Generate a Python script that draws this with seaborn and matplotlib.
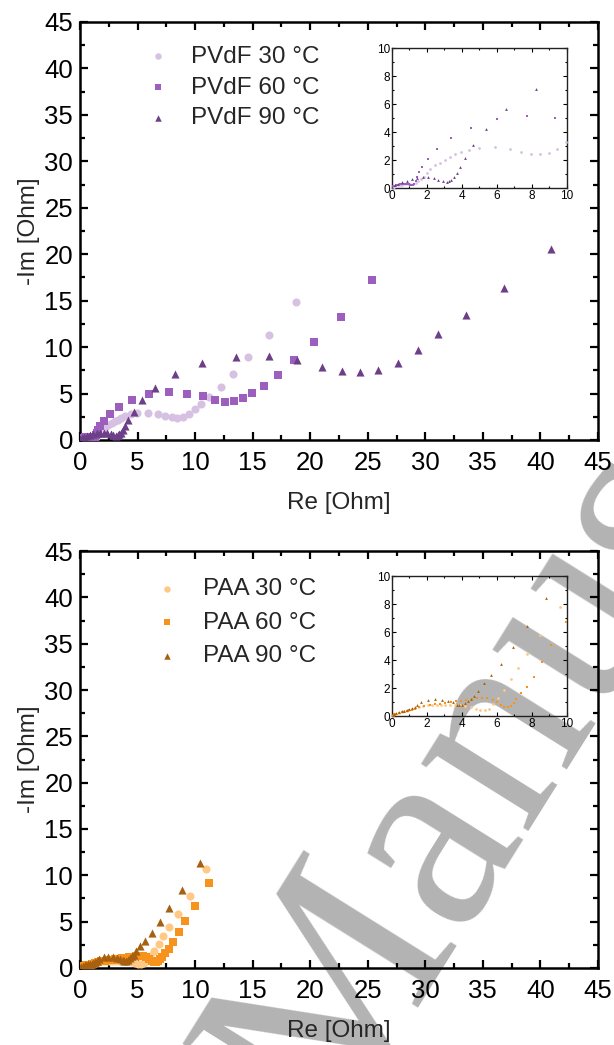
import pandas as pd
import matplotlib.pyplot as plt
import seaborn as sns
from matplotlib.ticker import MultipleLocator

# ---- data (Re, -Im) ----
pvdf_labels = ["PVdF 30 °C", "PVdF 60 °C", "PVdF 90 °C"]
paa_labels = ["PAA 30 °C", "PAA 60 °C", "PAA 90 °C"]

pvdf30_re = [0.03, 0.10, 0.20, 0.32, 0.45, 0.60, 0.75, 0.90, 1.05, 1.20, 1.35, 1.50, 1.65, 1.82,
             2.00, 2.20, 2.45, 2.74, 3.05, 3.30, 3.60, 3.95, 4.40, 4.95, 5.90, 6.75, 7.40, 7.95,
             8.45, 8.95, 9.45, 9.95, 10.52, 11.23, 12.23, 13.30, 14.61, 16.44, 18.73]
pvdf30_im = [0.04, 0.10, 0.15, 0.19, 0.22, 0.24, 0.26, 0.27, 0.28, 0.30, 0.36, 0.48, 0.62, 0.80,
             1.05, 1.38, 1.62, 1.82, 2.02, 2.20, 2.40, 2.58, 2.75, 2.85, 2.90, 2.78, 2.55, 2.45,
             2.40, 2.50, 2.78, 3.28, 3.91, 4.66, 5.66, 7.10, 8.89, 11.29, 14.80]

pvdf60_re = [0.02, 0.08, 0.15, 0.25, 0.35, 0.45, 0.55, 0.65, 0.75, 0.85, 0.95, 1.05, 1.15, 1.22,
             1.28, 1.35, 1.45, 1.57, 1.71, 2.08, 2.60, 3.40, 4.52, 6.02, 7.72, 9.32, 10.71, 11.71,
             12.63, 13.40, 14.12, 14.92, 15.95, 17.20, 18.60, 20.35, 22.70, 25.38]
pvdf60_im = [0.04, 0.12, 0.18, 0.22, 0.25, 0.27, 0.28, 0.29, 0.29, 0.28, 0.26, 0.24, 0.22, 0.22,
             0.30, 0.50, 0.80, 1.12, 1.51, 2.08, 2.79, 3.58, 4.32, 4.90, 5.12, 5.00, 4.73, 4.34,
             4.12, 4.23, 4.55, 5.05, 5.77, 6.99, 8.57, 10.54, 13.20, 17.24]

pvdf90_re = [0.02, 0.15, 0.34, 0.59, 0.86, 1.14, 1.45, 1.77, 2.06, 2.38, 2.65, 2.91, 3.14, 3.28,
             3.39, 3.52, 3.71, 3.90, 4.20, 4.65, 5.35, 6.50, 8.24, 10.62, 13.51, 16.38, 18.88,
             21.02, 22.73, 24.34, 25.90, 27.64, 29.35, 31.10, 33.50, 36.80, 40.90]
pvdf90_im = [0.07, 0.19, 0.31, 0.43, 0.52, 0.64, 0.71, 0.76, 0.78, 0.71, 0.59, 0.50, 0.43, 0.48,
             0.59, 0.78, 1.06, 1.49, 2.15, 3.05, 4.25, 5.63, 7.06, 8.32, 8.96, 9.03, 8.57,
             7.89, 7.42, 7.28, 7.49, 8.28, 9.71, 11.43, 13.48, 16.34, 20.60]

paa30_re = [0.03, 0.12, 0.25, 0.40, 0.55, 0.70, 0.85, 1.00, 1.15, 1.30, 1.55, 1.80, 2.05, 2.30,
            2.55, 2.80, 3.05, 3.30, 3.60, 3.90, 4.20, 4.50, 4.80, 5.05, 5.30, 5.55, 5.80, 6.05,
            6.42, 6.82, 7.23, 7.72, 8.48, 9.58, 10.98]
paa30_im = [0.04, 0.12, 0.18, 0.24, 0.29, 0.33, 0.37, 0.42, 0.47, 0.55, 0.68, 0.74, 0.76, 0.77,
            0.78, 0.78, 0.79, 0.80, 0.80, 0.78, 0.72, 0.62, 0.50, 0.42, 0.40, 0.50, 0.85, 1.30,
            1.85, 2.63, 3.40, 4.46, 5.79, 7.80, 10.68]

paa60_re = [0.03, 0.12, 0.25, 0.40, 0.55, 0.70, 0.85, 1.00, 1.15, 1.30, 1.55, 1.85, 2.15, 2.45,
            2.75, 3.05, 3.35, 3.65, 3.95, 4.25, 4.55, 4.85, 5.15, 5.45, 5.75, 6.00, 6.22, 6.42,
            6.62, 6.80, 6.95, 7.10, 7.37, 7.71, 8.11, 8.57, 9.08, 9.96, 11.23]
paa60_im = [0.03, 0.11, 0.17, 0.22, 0.27, 0.31, 0.35, 0.40, 0.45, 0.52, 0.64, 0.72, 0.78, 0.83,
            0.88, 0.93, 0.99, 1.05, 1.10, 1.16, 1.22, 1.28, 1.32, 1.30, 1.18, 0.98, 0.80, 0.68,
            0.66, 0.75, 0.95, 1.23, 1.61, 2.10, 2.79, 3.83, 5.04, 6.70, 9.17]

paa90_re = [0.03, 0.12, 0.25, 0.40, 0.55, 0.70, 0.85, 1.00, 1.15, 1.30, 1.45, 1.66, 2.06, 2.46,
            2.86, 3.19, 3.49, 3.70, 3.85, 3.99, 4.15, 4.32, 4.50, 4.70, 4.90, 5.25, 5.65, 6.25,
            6.94, 7.69, 8.82, 10.40]
paa90_im = [0.05, 0.14, 0.21, 0.27, 0.33, 0.38, 0.43, 0.48, 0.55, 0.65, 0.80, 0.97, 1.16, 1.23,
            1.18, 1.09, 0.99, 0.82, 0.76, 0.78, 0.90, 1.08, 1.25, 1.45, 1.80, 2.33, 2.93, 3.73,
            4.94, 6.43, 8.40, 11.32]

pvdf_colors = ["#d7c1e3", "#9d5fbd", "#6c3f88"]
paa_colors = ["#ffc985", "#f7921c", "#a6600f"]
markers = ["o", "s", "^"]

pvdf = [(pvdf30_re, pvdf30_im), (pvdf60_re, pvdf60_im), (pvdf90_re, pvdf90_im)]
paa = [(paa30_re, paa30_im), (paa60_re, paa60_im), (paa90_re, paa90_im)]

sns.set_theme(style="ticks")
plt.rcParams["font.family"] = ["Liberation Sans", "DejaVu Sans"]
plt.rcParams["axes.linewidth"] = 1.8

fig = plt.figure(figsize=(6.14, 10.45), dpi=100)


def panel(rect, inset_rect, series, labels, colors, legend_anchor, textpad, spacing):
    ax = fig.add_axes(rect)
    ins = fig.add_axes(inset_rect)
    for (re, im), lab, col, mk in zip(series, labels, colors, markers):
        df = pd.DataFrame({"Re": re, "Im": im})
        sns.scatterplot(data=df, x="Re", y="Im", ax=ax, color=col, marker=mk,
                        s=34, linewidth=0, label=lab, zorder=3)
        sns.scatterplot(data=df, x="Re", y="Im", ax=ins, color=col, marker=mk,
                        s=4, linewidth=0, legend=False, zorder=3)

    ax.set_xlim(0, 45)
    ax.set_ylim(0, 45)
    ax.xaxis.set_major_locator(MultipleLocator(5))
    ax.yaxis.set_major_locator(MultipleLocator(5))
    ax.xaxis.set_minor_locator(MultipleLocator(2.5))
    ax.yaxis.set_minor_locator(MultipleLocator(2.5))
    ax.tick_params(which="both", direction="in", top=True, right=True,
                   width=1.6, colors="black", labelsize=18.5)
    ax.tick_params(which="major", length=6)
    ax.tick_params(which="minor", length=3.5)
    ax.tick_params(axis="x", which="major", pad=8)
    ax.tick_params(axis="y", which="major", pad=5)
    ax.set_xlabel("Re [Ohm]", fontsize=17.5, labelpad=12)
    ax.set_ylabel("-Im [Ohm]", fontsize=17.5, labelpad=3)
    ax.patch.set_alpha(0)
    for sp in ax.spines.values():
        sp.set_color("black")
        sp.set_linewidth(1.8)

    ax.legend(loc="upper left", bbox_to_anchor=legend_anchor, frameon=False,
              fontsize=17.5, handlelength=1.0, handletextpad=textpad,
              labelspacing=spacing, borderaxespad=0, borderpad=0, markerscale=0.8)

    ins.set_xlim(0, 10)
    ins.set_ylim(0, 10)
    ins.xaxis.set_major_locator(MultipleLocator(2))
    ins.yaxis.set_major_locator(MultipleLocator(2))
    ins.xaxis.set_minor_locator(MultipleLocator(1))
    ins.yaxis.set_minor_locator(MultipleLocator(1))
    ins.tick_params(which="both", direction="in", top=True, right=True,
                    width=0.8, colors="black", labelsize=8.5, pad=1.5)
    ins.tick_params(which="major", length=3)
    ins.tick_params(which="minor", length=1.5)
    ins.set_xlabel("")
    ins.set_ylabel("")
    ins.patch.set_alpha(0)
    for sp in ins.spines.values():
        sp.set_color("#222222")
        sp.set_linewidth(1.0)
    return ax, ins


panel([0.1303, 0.579, 0.8436, 0.400], [0.6384, 0.820, 0.285, 0.134],
      pvdf, pvdf_labels, pvdf_colors, (0.127, 0.943), 0.85, 0.36)
panel([0.1303, 0.0737, 0.8436, 0.399], [0.6384, 0.3148, 0.285, 0.134],
      paa, paa_labels, paa_colors, (0.145, 0.935), 0.95, 0.47)

# grey watermark across the lower panel
fig.text(328 / 614, 1 - 1140 / 1045, "Manuscript", family="Liberation Serif",
         fontsize=198, color="#b3b3b3", rotation=58, rotation_mode="anchor",
         ha="left", va="baseline", zorder=-1)

fig.savefig("out.png", dpi=100)
